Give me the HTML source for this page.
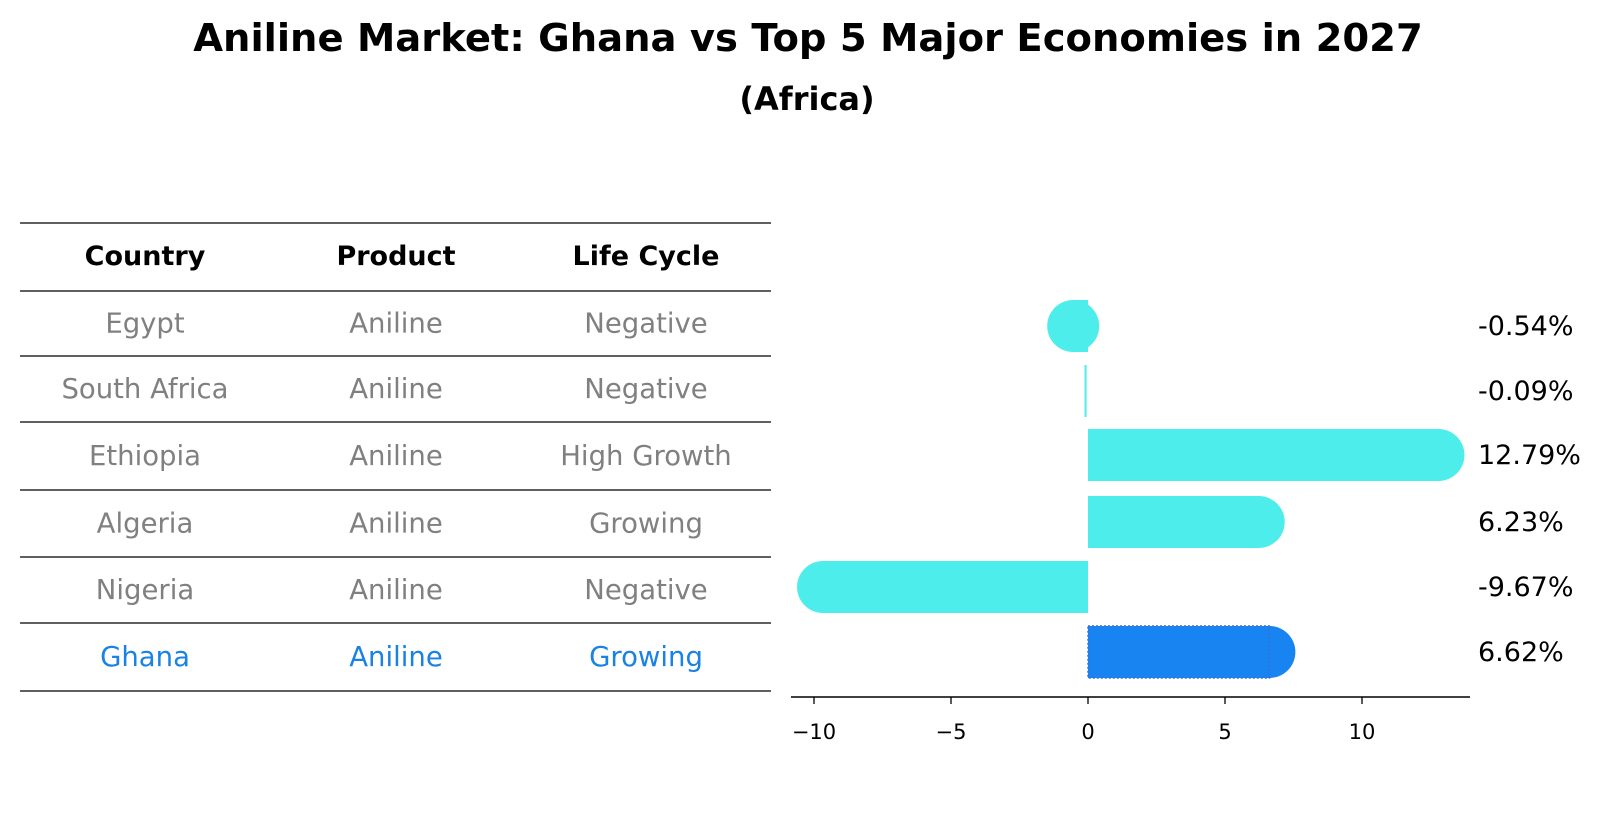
<!DOCTYPE html>
<html><head><meta charset="utf-8"><style>
body{margin:0;background:#fff;font-family:"DejaVu Sans","Liberation Sans",sans-serif;}
svg text{font-family:"DejaVu Sans","Liberation Sans",sans-serif;}
</style></head><body>
<svg id="c" width="1604" height="823" xmlns="http://www.w3.org/2000/svg">
<text x="808" y="51" text-anchor="middle" font-size="38.5" font-weight="bold">Aniline Market: Ghana vs Top 5 Major Economies in 2027</text>
<text x="807" y="110" text-anchor="middle" font-size="32" font-weight="bold">(Africa)</text>
<g id="tbl"></g>
<g id="bars"></g>
</svg>
<script>
const countries=["Egypt","South Africa","Ethiopia","Algeria","Nigeria","Ghana"];
const products=["Aniline","Aniline","Aniline","Aniline","Aniline","Aniline"];
const lifeCycles=["Negative","Negative","High Growth","Growing","Negative","Growing"];
const values=[-0.54,-0.09,12.79,6.23,-9.67,6.62];
const tickValues=[-10,-5,0,5,10];
const NS="http://www.w3.org/2000/svg";
function mk(tag,attrs,parent){const e=document.createElementNS(NS,tag);for(const k in attrs)e.setAttribute(k,attrs[k]);parent.appendChild(e);return e;}
const tbl=document.getElementById('tbl'),bars=document.getElementById('bars');
const lineYs=[223,291,356,422,490,557,623,691];
const colX=[145,396,646];
lineYs.forEach(y=>{const l=mk('line',{x1:20,x2:771,y1:y,y2:y,stroke:'#000','stroke-width':1.2},tbl);

});
["Country","Product","Life Cycle"].forEach((h,i)=>{const t=mk('text',{x:colX[i],y:265,'text-anchor':'middle','font-size':27,'font-weight':'bold'},tbl);t.textContent=h;

});
const rowY=i=>(lineYs[i+1]+lineYs[i+2])/2+9;
countries.forEach((c,i)=>{const col=c==="Ghana"?'#1a82e3':'#808080';
[c,products[i],lifeCycles[i]].forEach((v,j)=>{const t=mk('text',{x:colX[j],y:rowY(i),'text-anchor':'middle','font-size':27.5,fill:col},tbl);t.textContent=v;

});});
const x0=1088,ppu=27.4;
const xs=v=>x0+v*ppu;
const barY=[326,391,455,522,587,652];
const bh=52;
values.forEach((v,i)=>{const ghana=countries[i]==="Ghana";const fill=ghana?'#1884f2':'#4cedeb';
const g=mk('g',{},bars);


const a=Math.min(xs(0),xs(v)),w=Math.max(Math.abs(xs(v)-xs(0)),2);
if(Math.abs(v)>0.2)mk('circle',{cx:xs(v),cy:barY[i],r:bh/2,fill:fill},g);
const r=mk('rect',{x:Math.abs(v)>0.2?a:xs(v)-1,y:barY[i]-bh/2,width:Math.abs(v)>0.2?w:2,height:bh,fill:fill},g);
if(ghana){r.setAttribute('stroke','#3a6fd0');r.setAttribute('stroke-dasharray','2,2');r.setAttribute('stroke-width','1.5');}
const t=mk('text',{x:1478,y:barY[i]+9,'font-size':27},bars);t.textContent=v.toFixed(2)+'%';

});
const ax=mk('line',{x1:791,x2:1470,y1:697,y2:697,stroke:'#000','stroke-width':1.5},bars);


tickValues.forEach(v=>{mk('line',{x1:xs(v),x2:xs(v),y1:697,y2:704,stroke:'#000','stroke-width':1.3},bars);
const t=mk('text',{x:xs(v),y:739,'text-anchor':'middle','font-size':21},bars);t.textContent=v<0?'\u2212'+Math.abs(v):String(v);

});
</script>
</body></html>
